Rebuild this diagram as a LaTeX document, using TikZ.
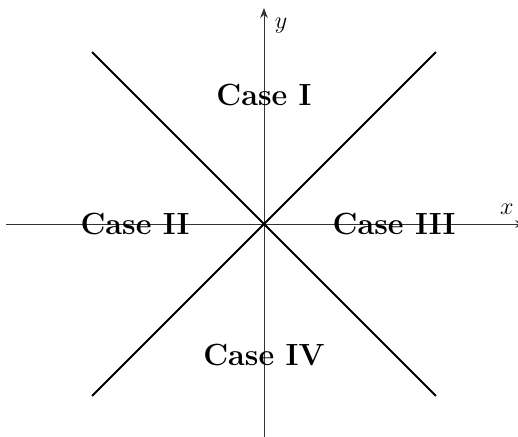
\documentclass[tikz,border=0pt]{standalone}
\usepackage{tikz}
\usetikzlibrary{arrows.meta, positioning}
\tikzset{
  % Coordinate axes
  axisline/.style={-{Stealth[length=5pt]}, line width=0.4pt, black!80},
  % Lines y = x and y = -x
  boundary/.style={line width=0.9pt, black},
  % Region labels
  caselabel/.style={font=\fontsize{15.2}{18}\selectfont\bfseries, inner sep=0pt},
  % Axis labels
  axislabel/.style={font=\large, inner sep=1pt},
}

\begin{document}
\begin{tikzpicture}

  \useasboundingbox (-4.607,-3.700) rectangle (4.433,3.909);

  % Axes
  \coordinate (xmin) at (-4.5,0);
  \coordinate (xmax) at (4.56,0);
  \coordinate (ymin) at (0,-3.75);
  \coordinate (ymax) at (0,3.77);
  \draw[axisline] (xmin) -- (xmax);
  \draw[axisline] (ymin) -- (ymax);
  \node[axislabel] (xlab) at (4.24,0.26) {$x$};
  \node[axislabel] (ylab) at (0.30,3.47) {$y$};

  % Diagonals
  \coordinate (nw) at (-3,3);
  \coordinate (se) at (3,-3);
  \coordinate (ne) at (3,3);
  \coordinate (sw) at (-3,-3);
  \draw[boundary] (nw) -- (se);
  \draw[boundary] (ne) -- (sw);

  % Regions
  \node[caselabel] (c1) at (0,2.25) {Case I};
  \node[caselabel] (c2) at (-2.25,0) {Case II};
  \node[caselabel] (c3) at (2.27,0) {Case III};
  \node[caselabel] (c4) at (0,-2.28) {Case IV};

\end{tikzpicture}
\end{document}
